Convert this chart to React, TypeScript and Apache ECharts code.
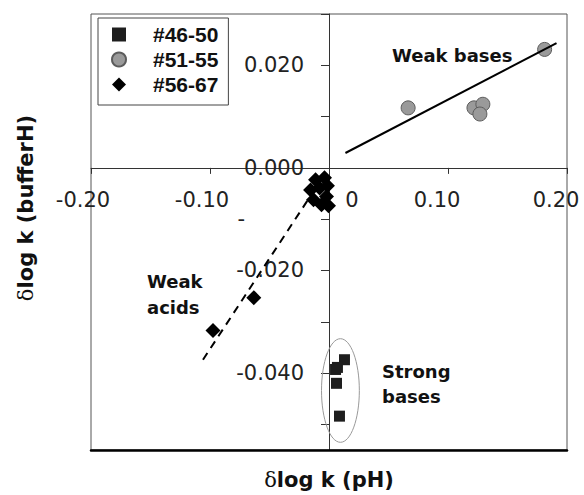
import React, { useEffect, useRef } from 'react';
import * as echarts from 'echarts';

// ---- data ----
const xTicks = [-0.2, -0.1, 0, 0.1, 0.2];
const xTickLabels = ['-0.20', '-0.10', '0', '0.10', '0.20'];
const yTicks = [-0.05, -0.04, -0.03, -0.02, -0.01, 0, 0.01, 0.02, 0.03];
const yTickLabels = ['', '-0.040', '', '-0.020', '-', '0.000', '', '0.020', ''];

const seriesNames = ['#46-50', '#51-55', '#56-67'];
const strongBases = [
  [0.013, -0.0374],
  [0.0071, -0.0389],
  [0.0055, -0.0393],
  [0.0063, -0.042],
  [0.0088, -0.0484],
];
const weakBases = [
  [0.0665, 0.0117],
  [0.1218, 0.0117],
  [0.1293, 0.0124],
  [0.1268, 0.0105],
  [0.1812, 0.0231],
];
const weakAcids = [
  [-0.0113, -0.0023],
  [-0.0038, -0.0019],
  [-0.0155, -0.0043],
  [-0.0079, -0.0039],
  [-0.0013, -0.0035],
  [-0.0021, -0.0056],
  [-0.013, -0.0062],
  [-0.0063, -0.0072],
  [-0.0004, -0.0074],
  [-0.0632, -0.0253],
  [-0.0975, -0.0317],
];
const weakBasesFit = [
  [0.0138, 0.0029],
  [0.1912, 0.0243],
];
const weakAcidsFit = [
  [-0.1059, -0.0374],
  [-0.0029, -0.001],
];
// centre x, centre y, radius x, radius y (data units)
const strongBasesEllipse = [[0.0096, -0.0434, 0.0159, 0.0101]];

const X_MIN = -0.2;
const X_MAX = 0.2;
const Y_MIN = -0.055;
const Y_MAX = 0.03;

const FONT = '"DejaVu Sans", sans-serif';

export default function App() {
  const ref = useRef<HTMLDivElement>(null);
  useEffect(() => {
    if (!ref.current) return;
    const chart = echarts.init(ref.current, null, { renderer: 'svg' });
    const findIdx = (arr: number[], v: number) => arr.findIndex((t) => Math.abs(t - v) < 1e-9);

    const W = 584;
    const H = 495;
    const gLeft = 91;
    const gRight = 17;
    const gTop = 14;
    const gBottom = 45;
    const plotW = W - gLeft - gRight;
    const plotH = H - gTop - gBottom;
    // place the crossing axes at the zero values
    const zeroX = gLeft + ((0 - X_MIN) / (X_MAX - X_MIN)) * plotW;
    const zeroY = gTop + ((Y_MAX - 0) / (Y_MAX - Y_MIN)) * plotH;
    const xOffset = -(H - gBottom - zeroY);
    const yOffset = -(zeroX - gLeft);

    const option: any = {
      animation: false,
      backgroundColor: '#fff',
      grid: {
        left: gLeft,
        right: gRight,
        top: gTop,
        bottom: gBottom,
        show: true,
        borderColor: '#555',
        borderWidth: 1,
        backgroundColor: 'transparent',
      },
      legend: {
        orient: 'vertical',
        left: 98,
        top: 18,
        data: seriesNames,
        backgroundColor: '#fff',
        borderColor: '#444',
        borderWidth: 1,
        borderRadius: 0,
        padding: [6, 10, 10, 13],
        itemWidth: 14,
        itemHeight: 14,
        itemGap: 4,
        formatter: (name: string) => `{t|${name}}`,
        textStyle: {
          rich: {
            t: {
              padding: [0, 0, 0, 22],
              fontFamily: '"Liberation Sans", Arial, sans-serif',
              fontWeight: 'bold',
              fontSize: 21,
              lineHeight: 22,
              color: '#111',
            },
          },
        },
      },
      xAxis: [
        {
          type: 'value',
          min: X_MIN,
          max: X_MAX,
          interval: 0.1,
          position: 'bottom',
          offset: xOffset,
          axisLine: { onZero: false, lineStyle: { color: '#333', width: 1 } },
          axisTick: { show: true, length: 6, lineStyle: { color: '#333' } },
          splitLine: { show: false },
          axisLabel: {
            margin: 22,
            formatter: (v: number) => {
              const i = findIdx(xTicks, v);
              const s = i >= 0 ? xTickLabels[i] : '';
              if (s === '0') return `{z|${s}}`;
              if (v < 0) return `{n|${s}}`;
              return `{p|${s}}`;
            },
            rich: {
              n: { fontFamily: FONT, fontSize: 21, color: '#222', padding: [0, 16, 0, 0] },
              p: { fontFamily: FONT, fontSize: 21, color: '#222', padding: [0, 22, 0, 0] },
              z: { fontFamily: FONT, fontSize: 21, color: '#222', padding: [0, 0, 0, 46] },
            },
          },
        },
        {
          type: 'value',
          min: X_MIN,
          max: X_MAX,
          position: 'bottom',
          axisLine: { onZero: false, lineStyle: { color: '#000', width: 2.5 } },
          axisTick: { show: false },
          axisLabel: { show: false },
          splitLine: { show: false },
        },
      ],
      yAxis: {
        type: 'value',
        min: Y_MIN,
        max: Y_MAX,
        position: 'left',
        offset: yOffset,
        axisLine: { onZero: false, lineStyle: { color: '#333', width: 1 } },
        axisTick: { show: true, length: 8, customValues: yTicks, lineStyle: { color: '#333' } },
        splitLine: { show: false },
        axisLabel: {
          customValues: yTicks,
          margin: 25,
          formatter: (v: number) => {
            const i = findIdx(yTicks, v);
            const s = i >= 0 ? yTickLabels[i] : '';
            if (s === '') return '';
            if (s === '-') return `{m|${s}}`;
            return `{a|${s}}`;
          },
          rich: {
            a: { fontFamily: FONT, fontSize: 21, color: '#222' },
            m: { fontFamily: FONT, fontSize: 21, color: '#222', padding: [0, 59, 0, 0] },
          },
        },
      },
      series: [
        {
          name: seriesNames[0],
          type: 'scatter',
          symbol: 'rect',
          symbolSize: 11,
          itemStyle: { color: '#1e1e1e', opacity: 1 },
          data: strongBases,
          z: 3,
        },
        {
          name: seriesNames[1],
          type: 'scatter',
          symbol: 'circle',
          symbolSize: 14,
          itemStyle: { color: '#9a9a9a', borderColor: '#5c5c5c', borderWidth: 1, opacity: 1 },
          data: weakBases,
          z: 3,
        },
        {
          name: seriesNames[2],
          type: 'scatter',
          symbol: 'diamond',
          symbolSize: 15,
          itemStyle: { color: '#000', opacity: 1 },
          data: weakAcids,
          z: 3,
        },
        {
          name: 'fit-bases',
          type: 'line',
          symbol: 'none',
          data: weakBasesFit,
          lineStyle: { color: '#000', width: 2 },
          z: 4,
        },
        {
          name: 'fit-acids',
          type: 'line',
          symbol: 'none',
          data: weakAcidsFit,
          lineStyle: { color: '#000', width: 2, type: [8, 6] },
          z: 4,
        },
        {
          name: 'ellipse',
          type: 'custom',
          data: strongBasesEllipse,
          z: 2,
          renderItem: (params: any, api: any) => {
            const c = api.coord([api.value(0), api.value(1)]);
            const s = api.size([api.value(2), api.value(3)]);
            return {
              type: 'ellipse',
              shape: { cx: c[0], cy: c[1], rx: s[0], ry: s[1] },
              style: { fill: 'none', stroke: '#9a9a9a', lineWidth: 1 },
            };
          },
        },
      ],
      graphic: [
        {
          type: 'text',
          x: 392,
          y: 55,
          z: 10,
          style: {
            text: 'Weak bases',
            font: `bold 18px ${FONT}`,
            fill: '#111',
            textAlign: 'left',
            textVerticalAlign: 'middle',
          },
        },
        {
          type: 'text',
          x: 147,
          y: 294,
          z: 10,
          style: {
            text: 'Weak\nacids',
            font: `bold 18px ${FONT}`,
            lineHeight: 26,
            fill: '#111',
            textAlign: 'left',
            textVerticalAlign: 'middle',
          },
        },
        {
          type: 'text',
          x: 382,
          y: 384,
          z: 10,
          style: {
            text: 'Strong\nbases',
            font: `bold 18px ${FONT}`,
            lineHeight: 25,
            fill: '#111',
            textAlign: 'left',
            textVerticalAlign: 'middle',
          },
        },
        {
          type: 'text',
          x: 329,
          y: 480,
          z: 10,
          style: {
            text: '{d|δ}{b|log k (pH)}',
            textAlign: 'center',
            textVerticalAlign: 'middle',
            rich: {
              d: { fontFamily: '"DejaVu Serif", serif', fontSize: 21, fill: '#111' },
              b: { fontFamily: FONT, fontWeight: 'bold', fontSize: 21, fill: '#111' },
            },
          },
        },
        {
          type: 'text',
          x: 26,
          y: 208,
          rotation: Math.PI / 2,
          z: 10,
          style: {
            text: '{d|δ}{b|log k (bufferH)}',
            textAlign: 'center',
            textVerticalAlign: 'middle',
            rich: {
              d: { fontFamily: '"DejaVu Serif", serif', fontSize: 21, fill: '#111' },
              b: { fontFamily: FONT, fontWeight: 'bold', fontSize: 21, fill: '#111' },
            },
          },
        },
      ],
    };
    chart.setOption(option);
    return () => chart.dispose();
  }, []);
  return (
    <div
      ref={ref}
      style={{ position: 'fixed', left: 0, top: 0, width: 584, height: 495, background: '#fff' }}
    />
  );
}
